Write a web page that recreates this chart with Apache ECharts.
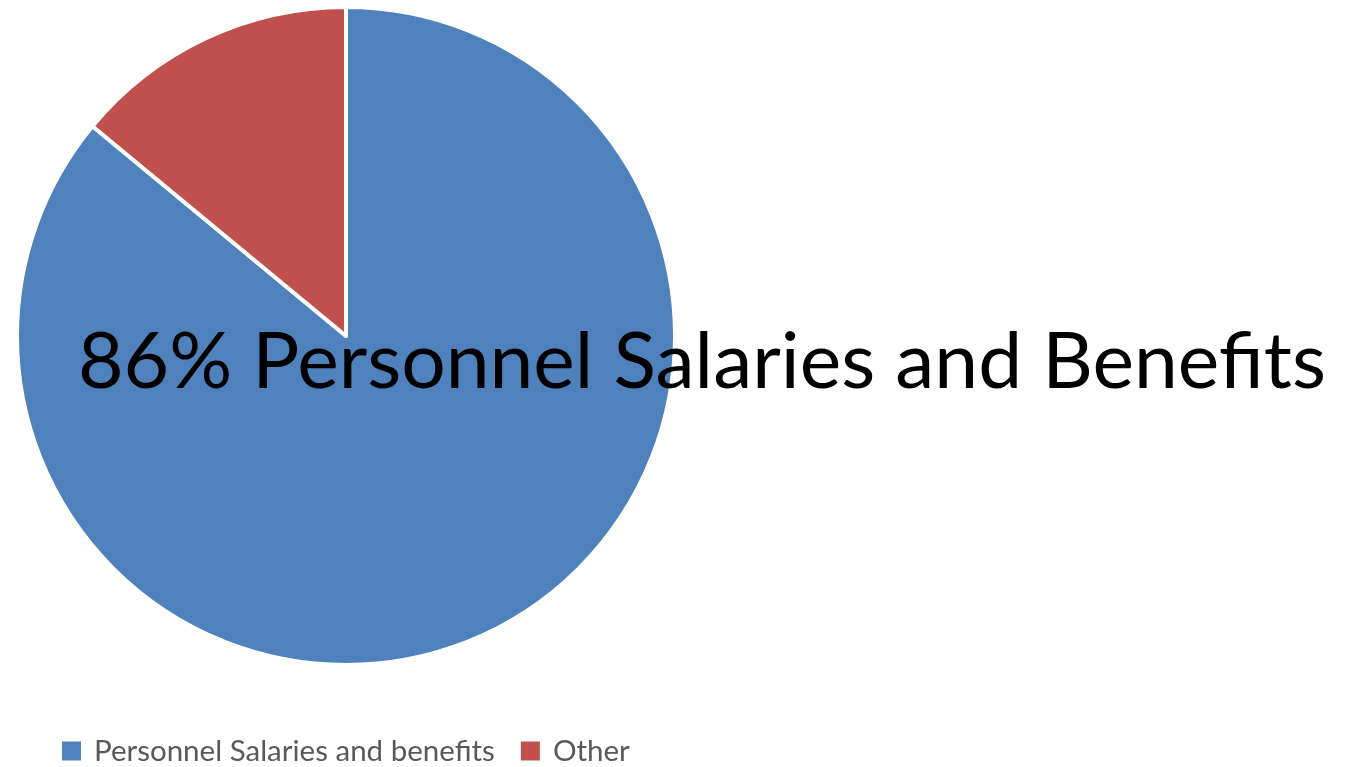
<!DOCTYPE html>
<html><head><meta charset="utf-8">
<script src="https://cdn.jsdelivr.net/npm/echarts@6/dist/echarts.min.js"></script>
<style>html,body{margin:0;padding:0;background:#fff}#c{width:1347px;height:767px}</style>
</head><body><div id="c"></div>
<script>
const categories = ["Personnel Salaries and benefits", "Other"];
const values = [86, 14];
const colors = ["#4F81BD", "#C0504D"];
const headline = "86% Personnel Salaries and Benefits";

const bigFont = '77px Lato';
const cv = document.createElement('canvas').getContext('2d');
cv.font = bigFont;
const w = cv.measureText(headline).width;
const sx = 1248 / w;

const chart = echarts.init(document.getElementById('c'));
chart.setOption({
  animation: false,
  color: colors,
  legend: {
    left: 60, top: 736, padding: 0,
    itemWidth: 21, itemHeight: 21, itemGap: 24,
    icon: 'rect',
    data: categories,
    textStyle: { fontFamily: 'Lato', fontSize: 29.5, color: '#595959', padding: [0,0,0,7] }
  },
  series: [{
    type: 'pie',
    center: [346, 336],
    radius: 329,
    startAngle: 90,
    clockwise: true,
    label: { show: false },
    labelLine: { show: false },
    itemStyle: { borderColor: '#fff', borderWidth: 4 },
    data: categories.map((c, i) => ({ name: c, value: values[i] }))
  }],
  graphic: [{
    type: 'text',
    z: 100, zlevel: 1,
    x: 78, y: 325, scaleX: sx,
    style: { text: headline, font: bigFont, fill: '#000', verticalAlign: 'top', align: 'left' }
  }]
});
</script></body></html>
